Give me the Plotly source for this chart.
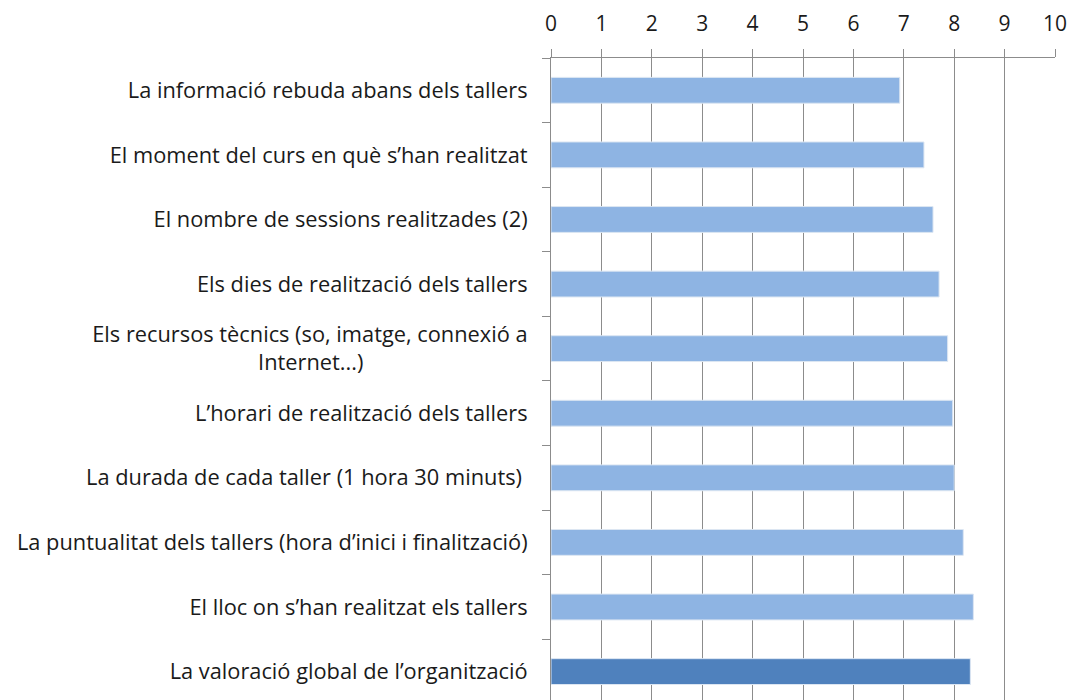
import plotly.graph_objects as go

NB = "\u00a0"
categories = [
    "La informació rebuda abans dels tallers",
    "El moment del curs en què s’han realitzat",
    "El nombre de sessions realitzades (2)",
    "Els dies de realització dels tallers",
    "Els recursos tècnics (so, imatge, connexió a<br>Internet...)" + NB * 29,
    "L’horari de realització dels tallers",
    "La durada de cada taller (1 hora 30 minuts)" + NB,
    "La puntualitat dels tallers (hora d’inici i finalització)",
    "El lloc on s’han realitzat els tallers",
    "La valoració global de l’organització",
]
values = [6.92, 7.40, 7.58, 7.70, 7.87, 7.97, 8.00, 8.18, 8.38, 8.32]
colors = ["#8EB4E3"] * 9 + ["#4F81BD"]
x_ticks = list(range(0, 11))

fig = go.Figure(
    go.Bar(
        x=values,
        y=categories,
        orientation="h",
        marker=dict(color=colors, line=dict(color="#DCE6F2", width=1)),
        width=0.4,
    )
)

fig.update_layout(
    width=1072,
    height=700,
    margin=dict(l=551, r=17, t=58, b=0),
    paper_bgcolor="white",
    plot_bgcolor="white",
    font=dict(family="Open Sans, Liberation Sans, Arial, sans-serif", size=20, color="#1a1a1a"),
    showlegend=False,
    xaxis=dict(
        side="top",
        range=[0, 10],
        tickvals=x_ticks,
        showgrid=True,
        gridcolor="#8C8C8C",
        gridwidth=1,
        showline=True,
        linecolor="#8C8C8C",
        ticks="outside",
        ticklen=8,
        tickcolor="#8C8C8C",
        tickfont=dict(size=21),
        ticklabelstandoff=10,
        zeroline=False,
    ),
    yaxis=dict(
        type="category",
        range=[9.44, -0.5],
        tickson="boundaries",
        ticks="outside",
        ticklen=8,
        tickcolor="#8C8C8C",
        showline=True,
        linecolor="#8C8C8C",
        showgrid=False,
        ticklabelstandoff=18,
        tickfont=dict(size=21.8),
    ),
)

fig.write_html(
    "out.html",
    config={"displayModeBar": False},
    post_script="document.body.style.margin='0';document.body.style.overflow='hidden';",
)
